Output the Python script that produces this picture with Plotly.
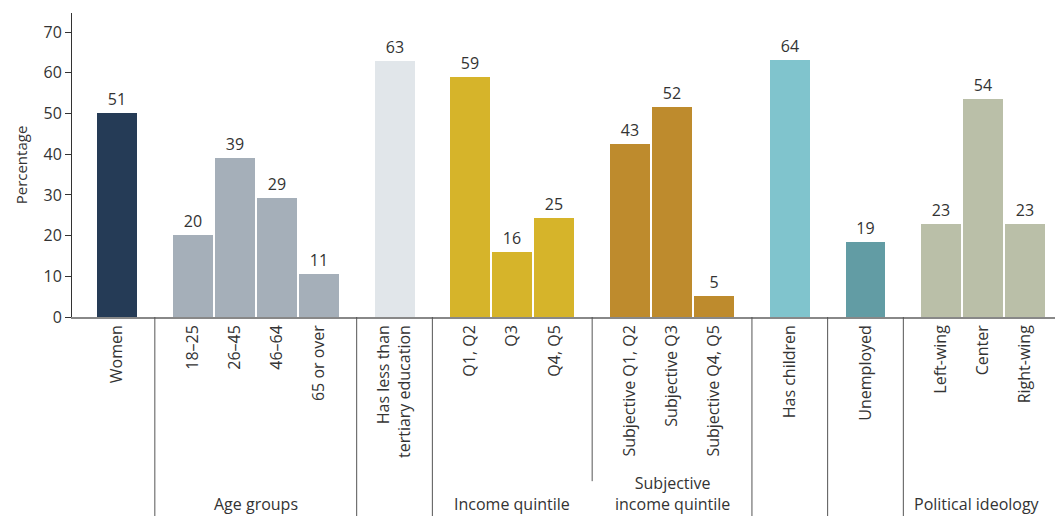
import plotly.graph_objects as go

# ---- data ----
group_names = ["", "Age groups", "", "Income quintile", "Subjective<br>income quintile",
               "", "", "Political ideology"]
group_categories = [
    ["Women"],
    ["18–25", "26–45", "46–64", "65 or over"],
    ["Has less than<br>tertiary education"],
    ["Q1, Q2", "Q3", "Q4, Q5"],
    ["Subjective Q1, Q2", "Subjective Q3", "Subjective Q4, Q5"],
    ["Has children"],
    ["Unemployed"],
    ["Left-wing", "Center", "Right-wing"],
]
group_heights = [
    [50.1],
    [20.1, 39.1, 29.2, 10.5],
    [62.9],
    [59.0, 15.9, 24.3],
    [42.5, 51.6, 5.1],
    [63.2],
    [18.4],
    [22.8, 53.6, 22.8],
]
group_labels = [
    [51],
    [20, 39, 29, 11],
    [63],
    [59, 16, 25],
    [43, 52, 5],
    [64],
    [19],
    [23, 54, 23],
]
group_colors = ["#253B56", "#A5AFB9", "#E1E6EA", "#D6B42A", "#BE8B2D",
                "#80C4CD", "#629CA4", "#BABFA8"]

GAP = 1.8  # distance between last bar of a group and first of the next

fig = go.Figure()
font_family = "Open Sans, Lato, sans-serif"
FS = 16

x = 0.0
tickvals, ticktext = [], []
group_bounds = []
for gi, cats in enumerate(group_categories):
    xs = []
    for ci, c in enumerate(cats):
        xs.append(x)
        tickvals.append(x)
        ticktext.append(c)
        x += 1.0
    x += GAP - 1.0
    group_bounds.append((xs[0], xs[-1]))
    fig.add_trace(go.Bar(
        x=xs, y=group_heights[gi], width=0.95,
        marker=dict(color=group_colors[gi], line=dict(width=0)),
        text=[str(v) for v in group_labels[gi]], textposition="outside",
        textfont=dict(size=FS, color="#333333", family=font_family),
        cliponaxis=False, showlegend=False, hoverinfo="skip",
    ))

x_min = -1.07
x_max = x_min + 983 / 42.05

# separators between groups
for i in range(len(group_bounds) - 1):
    sx = (group_bounds[i][1] + group_bounds[i + 1][0]) / 2
    y_end = -0.54 if i == 3 else -0.7
    fig.add_shape(type="line", xref="x", yref="paper", x0=sx, x1=sx, y0=0, y1=y_end,
                  line=dict(color="#555555", width=1))

# group labels
for gi, name in enumerate(group_names):
    if not name:
        continue
    a, b = group_bounds[gi]
    left = (group_bounds[gi - 1][1] + a) / 2
    if gi < len(group_bounds) - 1:
        right = (b + group_bounds[gi + 1][0]) / 2
        yy = -0.58 if "<br>" in name else -0.615
        fig.add_annotation(x=(left + right) / 2, xref="x", y=yy, yref="paper", text=name,
                           showarrow=False, xanchor="center", yanchor="middle",
                           font=dict(size=FS, color="#333333", family=font_family))
    else:
        fig.add_annotation(x=left + 0.2, xref="x", y=-0.615, yref="paper", text=name,
                           showarrow=False, xanchor="left", yanchor="middle",
                           font=dict(size=FS, color="#333333", family=font_family))

fig.update_layout(
    width=1055, height=516,
    margin=dict(l=72, r=0, t=13, b=199),
    paper_bgcolor="white", plot_bgcolor="white",
    font=dict(family=font_family, size=FS, color="#333333"),
    bargap=0,
    xaxis=dict(range=[x_min, x_max], tickvals=tickvals, ticktext=ticktext,
               tickangle=-90, showline=True, linecolor="#888888", linewidth=1.5,
               ticks="", showgrid=False, zeroline=False, automargin=False,
               tickfont=dict(size=FS, color="#333333")),
    yaxis=dict(range=[0, 74.7], tickvals=[0, 10, 20, 30, 40, 50, 60, 70],
               showline=True, linecolor="#333333", linewidth=1,
               ticks="outside", ticklen=6, tickcolor="#333333",
               showgrid=False, zeroline=False, automargin=False,
               tickfont=dict(size=FS, color="#333333"),
               title=dict(text="Percentage", font=dict(size=15, color="#333333"), standoff=12)),
)

fig.write_html("out.html", config={"displayModeBar": False},
               post_script="document.body.style.margin='0';document.body.style.overflow='hidden';")
